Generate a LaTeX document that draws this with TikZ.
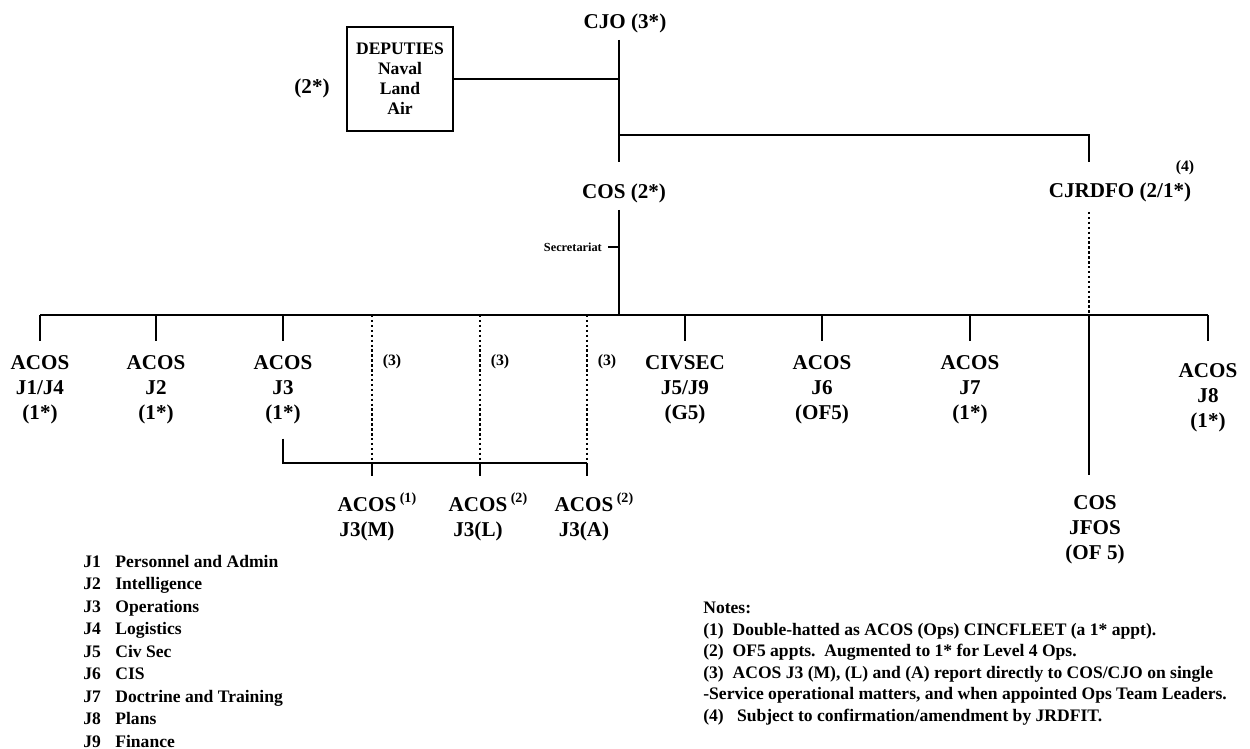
\documentclass[tikz,border=0pt]{standalone}
\usepackage{fontspec}
\setmainfont{Liberation Serif}
\usetikzlibrary{positioning}

\tikzset{
  lbl/.style={font=\bfseries\fontsize{12}{14.2}\selectfont, align=center, inner sep=0pt},
  tag/.style={font=\bfseries\fontsize{9}{10}\selectfont, inner sep=0pt},
  key/.style={font=\bfseries\fontsize{10}{12}\selectfont, inner sep=0pt, anchor=base west},
  link/.style={line width=1.1pt},
  dots/.style={line width=1.1pt, dash pattern=on 1.4pt off 1.4pt},
}
\newcommand{\sref}[1]{\rlap{\,\raisebox{5pt}{\fontsize{8}{8}\selectfont(#1)}}}

\begin{document}
\begin{tikzpicture}[x=0.02cm,y=-0.02cm]
  \useasboundingbox (0,0) rectangle (1250,749);
  % spine, bus and junctions
  \coordinate (spine) at (619,0);
  \coordinate (busW) at (40,315);
  \coordinate (busE) at (1208,315);
  \coordinate (rbr) at (1089,135);
  \coordinate (sub) at (283,463);

  % top of the chart
  \node[lbl] (cjo) at (625,23) {CJO (3*)};
  \node[draw, line width=1pt, minimum width=2.12cm, minimum height=2.08cm, lbl,
        font=\bfseries\fontsize{10}{11.4}\selectfont] (dep) at (400,79) {DEPUTIES\\Naval\\Land\\Air};
  \node[lbl] (depgrade) at (312,88) {(2*)};
  \node[lbl] (cos) at (624,193) {COS (2*)};
  \node[lbl] (cjrdfo) at (1120,192) {CJRDFO (2/1*)};
  \node[tag] (note4) at (1185,168) {(4)};

  \draw[link, shorten <=0.14cm, shorten >=0.42cm] (cjo.south -| spine) -- (cos.north -| spine);
  \draw[link] (dep.east) -- (dep.east -| spine);
  \draw[link, shorten >=0.4cm] (rbr -| spine) -- (rbr) -- (cjrdfo.north -| rbr);
  \draw[dots, shorten <=0.2cm] (cjrdfo.south -| rbr) -- (rbr |- busE);
  \draw[link, shorten <=0.14cm] (cos.south -| spine) -- (spine |- busE);
  \coordinate (sec) at (619,247);
  \draw[link] (sec) -- ++(-11,0)
    node[left, font=\bfseries\fontsize{7}{8}\selectfont, inner sep=3pt] (secr) {Secretariat};

  % staff branches
  \draw[link] (busW) -- (busE);
  \node[lbl] (j14) at (40,390) {ACOS\\J1/J4\\(1*)};
  \node[lbl] (j2) at (156,390) {ACOS\\J2\\(1*)};
  \node[lbl] (j3) at (283,390) {ACOS\\J3\\(1*)};
  \node[lbl] (civsec) at (685,390) {CIVSEC\\J5/J9\\(G5)};
  \node[lbl] (j6) at (822,390) {ACOS\\J6\\(OF5)};
  \node[lbl] (j7) at (970,390) {ACOS\\J7\\(1*)};
  \node[lbl] (j8) at (1208,398) {ACOS\\J8\\(1*)};
  \foreach \n/\s in {j14/0.28, j2/0.28, j3/0.28, civsec/0.28, j6/0.28, j7/0.28, j8/0.44}
    \draw[link, shorten >=\s cm] (\n.north |- busW) -- (\n.north);

  % J3 single-Service leads
  \node[lbl] (j3m) at (367,517) {ACOS\sref{1}\\J3(M)};
  \node[lbl] (j3l) at (478,517) {ACOS\sref{2}\\J3(L)};
  \node[lbl] (j3a) at (584,517) {ACOS\sref{2}\\J3(A)};
  \foreach \n/\x in {j3m/372, j3l/480, j3a/587} {
    \coordinate (\n-top) at (\x,315);
    \draw[dots] (\n-top) -- (\n-top |- sub);
    \draw[link, shorten >=0.34cm] (\n-top |- sub) -- (\n.north -| \n-top);
    \node[tag] (\n-tag) at ({\x+20},362) {(3)};
  }
  \draw[link, shorten <=0.28cm] (j3.south) -- (j3.south |- sub) -- (sub -| j3a-top);

  % joint force HQ
  \node[lbl] (jfos) at (1095,530) {COS\\JFOS\\(OF 5)};
  \draw[link, shorten >=0.4cm] (rbr |- busE) -- (jfos.north -| rbr);

  % key
  \foreach \c/\t [count=\i] in {J1/Personnel and Admin, J2/Intelligence, J3/Operations,
      J4/Logistics, J5/Civ Sec, J6/CIS, J7/Doctrine and Training, J8/Plans, J9/Finance} {
    \node[key] (code\i) at (83,{567+22.5*(\i-1)}) {\c};
    \node[key] (key\i) at (115,{567+22.5*(\i-1)}) {\t};
  }

  % notes
  \node[font=\bfseries\fontsize{10}{12.2}\selectfont, align=left, inner sep=0pt, anchor=north west]
    (notes) at (703,602) {Notes:\\
    (1)\ \ Double-hatted as ACOS (Ops) CINCFLEET (a 1* appt).\\
    (2)\ \ OF5 appts.\ \ Augmented to 1* for Level 4 Ops.\\
    (3)\ \ ACOS J3 (M), (L) and (A) report directly to COS/CJO on single\\
    -Service operational matters, and when appointed Ops Team Leaders.\\
    (4)\ \ \ Subject to confirmation/amendment by JRDFIT.};
\end{tikzpicture}
\end{document}
